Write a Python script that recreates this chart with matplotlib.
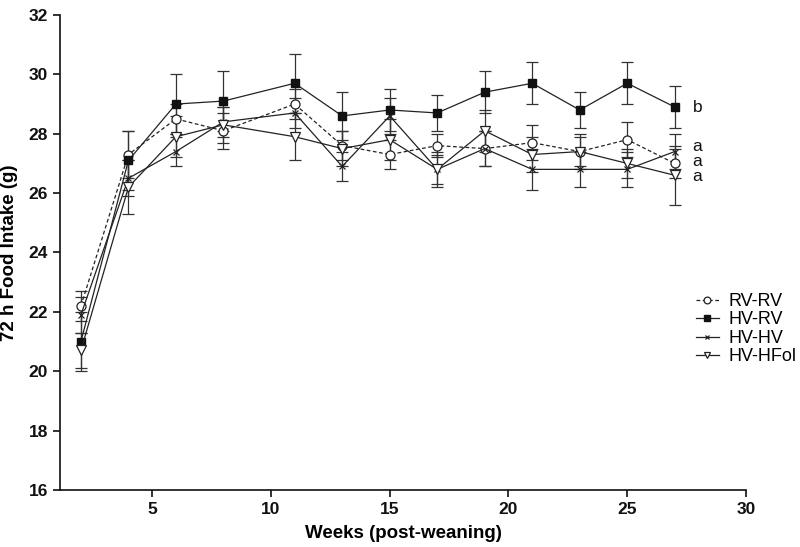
import matplotlib
matplotlib.use("Agg")
import matplotlib.pyplot as plt
from matplotlib.lines import Line2D

weeks = [2, 4, 6, 8, 11, 13, 15, 17, 19, 21, 23, 25, 27]

rv_rv = [22.2, 27.3, 28.5, 28.1, 29.0, 27.6, 27.3, 27.6, 27.5, 27.7, 27.4, 27.8, 27.0]
rv_rv_sem = [0.5, 0.8, 0.5, 0.6, 0.5, 0.5, 0.5, 0.4, 0.6, 0.6, 0.5, 0.6, 0.5]

hv_rv = [21.0, 27.1, 29.0, 29.1, 29.7, 28.6, 28.8, 28.7, 29.4, 29.7, 28.8, 29.7, 28.9]
hv_rv_sem = [1.0, 1.0, 1.0, 1.0, 1.0, 0.8, 0.7, 0.6, 0.7, 0.7, 0.6, 0.7, 0.7]

hv_hv = [21.9, 26.5, 27.4, 28.4, 28.7, 26.9, 28.6, 26.8, 27.5, 26.8, 26.8, 26.8, 27.4]
hv_hv_sem = [0.6, 0.6, 0.5, 0.5, 0.5, 0.5, 0.6, 0.5, 0.6, 0.7, 0.6, 0.6, 0.6]

hv_hfol = [20.7, 26.2, 27.9, 28.3, 27.9, 27.5, 27.8, 26.8, 28.1, 27.3, 27.4, 27.0, 26.6]
hv_hfol_sem = [0.6, 0.9, 0.7, 0.6, 0.8, 0.6, 0.7, 0.6, 0.7, 0.6, 0.6, 0.5, 1.0]

labels = ["RV-RV", "HV-RV", "HV-HV", "HV-HFol"]
sig_letters = ["b", "a", "a", "a"]
sig_positions = [28.9, 27.56, 27.05, 26.55]

xticks = [5, 10, 15, 20, 25, 30]
yticks = [16, 18, 20, 22, 24, 26, 28, 30, 32]

plt.rcParams['font.family'] = ['Liberation Sans', 'DejaVu Sans']

fig = plt.figure(figsize=(8.0, 5.47), dpi=100)
ax = fig.add_axes([0.075, 0.1042, 0.8575, 0.8684])

col = "#222222"
ecol = "#333333"
common = dict(color=col, ecolor=ecol, elinewidth=0.9, capsize=4, capthick=0.9, lw=0.9)

styles = [
    dict(ls=(0, (3, 2)), marker='o', mfc='white', mec=col, mew=0.9, markersize=6.5),
    dict(ls='-', marker='s', mfc='#111111', mec='#111111', markersize=6),
    dict(ls='-', marker='x', mfc=col, mec=col, mew=0.9, markersize=4.5),
    dict(ls='-', marker='v', mfc='white', mec=col, mew=0.9, markersize=6.5),
]
series = [(rv_rv, rv_rv_sem), (hv_rv, hv_rv_sem), (hv_hv, hv_hv_sem), (hv_hfol, hv_hfol_sem)]

for (vals, sem), st in zip(series, styles):
    ax.errorbar(weeks, vals, yerr=sem, **common, **st)

for letter, val in zip(sig_letters, sig_positions):
    ax.text(weeks[-1] + 0.75, val, letter, fontsize=12.5, va='center', ha='left', color='#111111')

ax.set_xlim(1.12, 30)
ax.set_ylim(16, 32)
ax.set_xticks(xticks)
ax.set_yticks(yticks)
for s in ['top', 'right']:
    ax.spines[s].set_visible(False)
for s in ['left', 'bottom']:
    ax.spines[s].set_linewidth(1.2)
    ax.spines[s].set_color('#111111')
ax.tick_params(direction='out', length=5, width=1.2, labelsize=12.5, colors='#111111')
for lab in ax.get_xticklabels() + ax.get_yticklabels():
    lab.set_fontweight('bold')

ax.set_xlabel("Weeks (post-weaning)", fontsize=13.5, fontweight='bold', labelpad=6)
ax.set_ylabel("72 h Food Intake (g)", fontsize=13.5, fontweight='bold', labelpad=8)

handles = []
for st in styles:
    hs = dict(st)
    hs['markersize'] = hs['markersize'] * 0.75
    handles.append(Line2D([], [], color=col, lw=0.9, **hs))
leg = ax.legend(handles, labels, loc='upper left', bbox_to_anchor=(0.916, 0.43), frameon=False,
                fontsize=13, handlelength=1.3, handletextpad=0.5, labelspacing=0.08, borderaxespad=0)

fig.savefig("out.png", dpi=100)
